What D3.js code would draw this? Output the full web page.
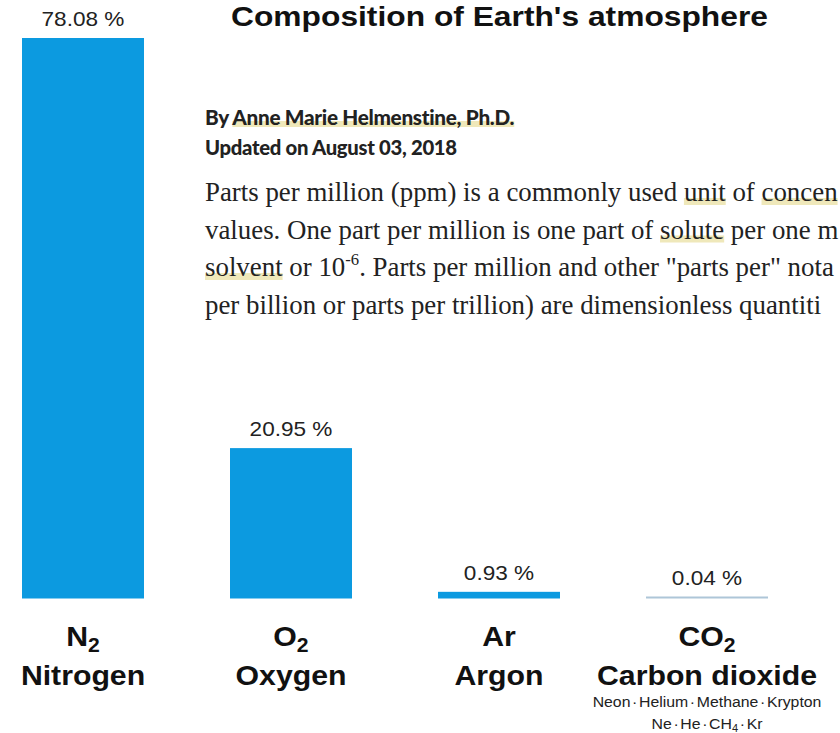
<!DOCTYPE html>
<html><head><meta charset="utf-8">
<script src="https://cdn.jsdelivr.net/npm/d3@7"></script>
<style>body{margin:0;background:#fff}svg{display:block}</style>
</head><body><svg id="c" width="840" height="733"></svg>
<script>
// ---------- data ----------
const symbols = ["N2", "O2", "Ar", "CO2"];
const names = ["Nitrogen", "Oxygen", "Argon", "Carbon dioxide"];
const values = [78.08, 20.95, 0.93, 0.04];
const title = "Composition of Earth's atmosphere";
const bylineLines = ["By Anne Marie Helmenstine, Ph.D.", "Updated on August 03, 2018"];
const bylineHighlight = "Anne Marie Helmenstine, Ph.D.";
// the reference crops this paragraph at its right edge
const paragraphLines = [
  "Parts per million (ppm) is a commonly used unit of concen",
  "values. One part per million is one part of solute per one m",
  "solvent or 10^-6. Parts per million and other \"parts per\" nota",
  "per billion or parts per trillion) are dimensionless quantiti"
];
const paragraphHighlights = [["unit", "concen"], ["solute"], ["solvent"], []];
const traceGases = ["Neon · Helium · Methane · Krypton", "Ne · He · CH4 · Kr"];

// ---------- layout ----------
const svg = d3.select("#c");
const SANS = "'Liberation Sans', Arial, Helvetica, sans-serif";
const BLUE = "#0c9ae0";
const FAINT = "#aec6d8";
const HL = "rgba(226,214,130,0.55)";
const baseY = 598.5;

const x = d3.scaleBand().domain(symbols).range([22, 768]).paddingInner(0.4135).paddingOuter(0);
const y = d3.scaleLinear().domain([0, 78.08]).range([baseY, 38]);
const fmt = v => d3.format(".2f")(v) + " %";

// rich text: letter+digits -> subscript, ^n -> superscript
function rich(t, str, size) {
  const re = /([A-Za-z])(\d+)|\^(-?\d+)/g;
  let last = 0, m, pending = 0;
  const add = (s, opts) => {
    if (!s) return;
    const sp = t.append("tspan").text(s);
    let dy = pending + (opts ? opts.dy : 0);
    if (dy) sp.attr("dy", dy);
    if (opts) { sp.attr("font-size", opts.fs); pending = -opts.dy; } else pending = 0;
  };
  while ((m = re.exec(str))) {
    if (m[3] !== undefined) {
      add(str.slice(last, m.index));
      add(m[3], {fs: size * 0.62, dy: -size * 0.42});
    } else {
      add(str.slice(last, m.index) + m[1]);
      add(m[2], {fs: size * 0.7, dy: size * 0.22});
    }
    last = re.lastIndex;
  }
  add(str.slice(last));
}

// highlight layer (drawn beneath texts)
const hlLayer = svg.append("g");

// ---------- bars ----------
const bars = svg.append("g");
bars.selectAll("rect").data(values).join("rect")
  .attr("x", (d, i) => x(symbols[i]))
  .attr("width", x.bandwidth())
  .attr("y", d => Math.min(y(d), baseY - 2))
  .attr("height", d => Math.max(baseY - y(d), 2))
  .attr("fill", d => (baseY - y(d)) < 1 ? FAINT : BLUE);

// value labels
const STRETCH = 1.13;
bars.selectAll("g.val").data(values).join("g").attr("class", "val")
  .attr("transform", (d, i) => `translate(${x(symbols[i]) + x.bandwidth() / 2},${Math.min(y(d), baseY - 2) - 12}) scale(${STRETCH},1)`)
  .append("text")
  .attr("text-anchor", "middle").attr("font-family", SANS).attr("font-size", 20).attr("fill", "#222")
  .text(d => fmt(d));

// category labels
const cats = svg.append("g");
symbols.forEach((s, i) => {
  const cx = x(s) + x.bandwidth() / 2;
  const g1 = cats.append("g").attr("transform", `translate(${cx},${baseY + 47}) scale(1.08,1)`);
  const t1 = g1.append("text").attr("text-anchor", "middle").attr("font-family", SANS)
    .attr("font-weight", "bold").attr("font-size", 28).attr("fill", "#111");
  rich(t1, s, 28);
  cats.append("g").attr("transform", `translate(${cx},${baseY + 86}) scale(1.08,1)`)
    .append("text").attr("text-anchor", "middle").attr("font-family", SANS)
    .attr("font-weight", "bold").attr("font-size", 28).attr("fill", "#111").text(names[i]);
});

// trace gases under CO2
const co2x = x("CO2") + x.bandwidth() / 2;
let traceScale = 1;
traceGases.forEach((s, i) => {
  const g = svg.append("g");
  const t = g.append("text").attr("text-anchor", "middle").attr("font-family", SANS)
    .attr("font-size", 14.5).attr("word-spacing", -2.5).attr("fill", "#222");
  rich(t, s, 14.5);
  if (i === 0) traceScale = 229 / t.node().getComputedTextLength();
  g.attr("transform", `translate(${co2x},${baseY + 108 + i * 22}) scale(${traceScale},1)`);
});

// title
const tg = svg.append("g");
const tt = tg.append("text").attr("font-family", SANS).attr("font-weight", "bold")
  .attr("font-size", 28).attr("fill", "#111").text(title);
const tw = tt.node().getComputedTextLength();
tg.attr("transform", `translate(231,26) scale(${537 / tw},1)`);

// byline
const LATO = "Lato, 'Open Sans', sans-serif";
const bylineWidths = [308, 251];
bylineLines.forEach((s, i) => {
  const t = svg.append("text").attr("x", 205).attr("y", 125 + i * 30)
    .attr("font-family", LATO).attr("font-weight", 900).attr("font-size", 18)
    .attr("fill", "#222").attr("letter-spacing", -0.3).text(s);
  const w0 = t.node().getComputedTextLength();
  t.attr("font-size", 18 * bylineWidths[i] / w0);
  if (i === 0) {
    const idx = s.indexOf(bylineHighlight);
    const x0 = 205 + t.node().getSubStringLength(0, idx);
    const w = t.node().getSubStringLength(idx, bylineHighlight.length);
    hlLayer.append("rect").attr("x", x0).attr("y", 121).attr("width", w).attr("height", 6).attr("fill", HL);
  }
});

// paragraph
const SERIF = "'Liberation Serif', 'Times New Roman', serif";
const probe = svg.append("text").attr("font-family", SERIF).attr("font-size", 20)
  .text(paragraphLines[0]);
const pfs = 20 * 633 / probe.node().getComputedTextLength();
probe.remove();
const para = svg.append("g");
paragraphLines.forEach((s, i) => {
  const by = 201 + i * 37.5;
  const t = para.append("text").attr("x", 205).attr("y", by)
    .attr("font-family", SERIF).attr("font-size", pfs).attr("fill", "#222");
  rich(t, s, pfs);
  const plain = s.replace("^", "");
  paragraphHighlights[i].forEach(w => {
    const idx = plain.indexOf(w);
    const x0 = 205 + t.node().getSubStringLength(0, idx);
    const ww = t.node().getSubStringLength(idx, w.length);
    hlLayer.append("rect").attr("x", x0).attr("y", by - 3).attr("width", ww).attr("height", 7).attr("fill", HL);
  });
});
</script></body></html>
